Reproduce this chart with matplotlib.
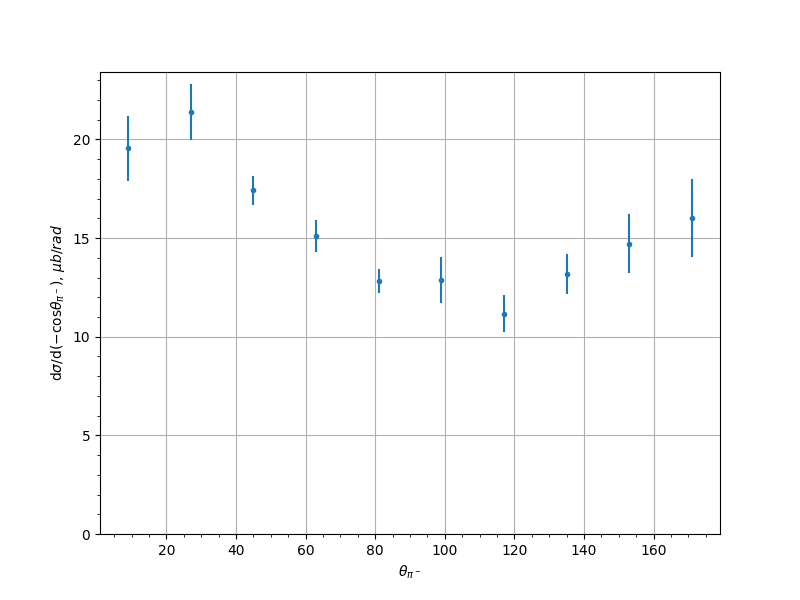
import numpy as np
import matplotlib
matplotlib.use('Agg')
import matplotlib.pyplot as plt

theta = [9, 27, 45, 63, 81, 99, 117, 135, 153, 171]
xsec = [19.55, 21.38, 17.42, 15.11, 12.83, 12.88, 11.17, 13.18, 14.72, 16.03]
err = [1.66, 1.41, 0.73, 0.80, 0.62, 1.15, 0.95, 1.01, 1.48, 1.98]

fig, ax = plt.subplots(figsize=(8, 6), dpi=100)
ax.errorbar(theta, xsec, yerr=err, fmt='.')
ax.set_ylim(bottom=0)
ax.minorticks_on()
ax.grid(which='major')
ax.set_xlabel(r'$\theta_{\pi^-}$')
ax.set_ylabel(r'd$\sigma$/d$(-\mathrm{cos}\theta_{\pi^-})$, $\mu b/rad$')
fig.savefig('out.png')
